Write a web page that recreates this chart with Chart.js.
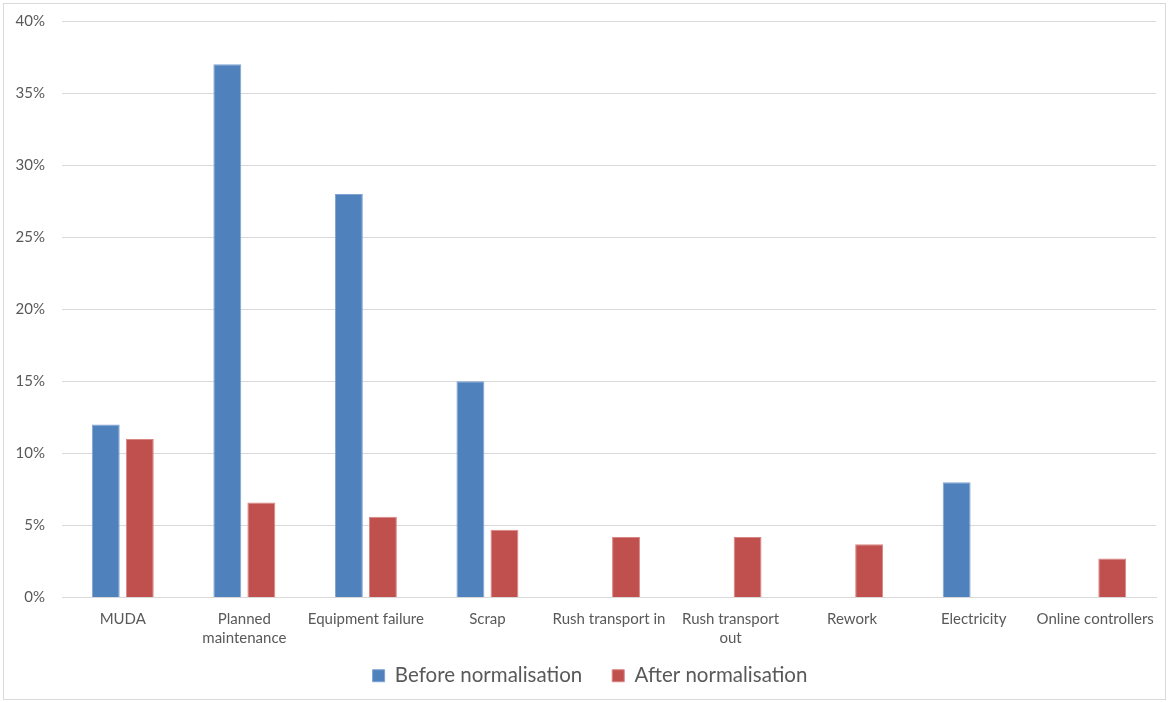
<!DOCTYPE html>
<html><head><meta charset="utf-8">
<script src="https://cdn.jsdelivr.net/npm/chart.js@4"></script>
<style>html,body{margin:0;padding:0;background:#fff}#wrap{width:1169px;height:702px;position:relative}</style>
</head><body><div id="wrap"><canvas id="c" width="1169" height="702"></canvas></div>
<script>
const categories = ['MUDA', ['Planned','maintenance'], 'Equipment failure', 'Scrap', 'Rush transport in', ['Rush transport','out'], 'Rework', 'Electricity', 'Online controllers'];
const beforeNorm = [12, 37, 28, 15, null, null, null, 8, null];
const afterNorm = [11, 6.6, 5.6, 4.7, 4.2, 4.2, 3.7, null, 2.7];
const yTicks = [0, 5, 10, 15, 20, 25, 30, 35, 40];

const borderPlugin = {
  id: 'outerBorder',
  afterLayout(chart) {
    chart.legend.top -= 12;
    chart.legend.bottom -= 12;
    chart.legend.left += 7;
    chart.legend.right += 7;
  },
  afterDraw(chart) {
    const ctx = chart.ctx;
    ctx.save();
    ctx.strokeStyle = '#d9d9d9';
    ctx.lineWidth = 1;
    ctx.strokeRect(3.5, 3.5, 1162, 696);
    ctx.restore();
  }
};

new Chart(document.getElementById('c'), {
  type: 'bar',
  data: {
    labels: categories,
    datasets: [
      {label: 'Before normalisation', data: beforeNorm, backgroundColor: '#4F81BD', borderColor: '#7FA3D3', borderWidth: 1, categoryPercentage: 0.56, barPercentage: 0.82},
      {label: 'After normalisation', data: afterNorm, backgroundColor: '#C0504D', borderColor: '#D98683', borderWidth: 1, categoryPercentage: 0.56, barPercentage: 0.82}
    ]
  },
  options: {
    responsive: false,
    animation: false,
    layout: {padding: {left: 10, right: 13, top: 8, bottom: -6}},
    plugins: {
      legend: {
        position: 'bottom',
        labels: {boxWidth: 12, boxHeight: 12, padding: 30, color: '#595959', font: {family: 'Lato', size: 20.5}}
      },
      tooltip: {enabled: false}
    },
    scales: {
      x: {
        afterFit(axis) { axis.height = 50; },
        grid: {display: false, drawTicks: false},
        border: {color: '#d9d9d9'},
        ticks: {color: '#595959', font: {family: 'Lato', size: 15, lineHeight: 1.27}, padding: 12, maxRotation: 0, autoSkip: false}
      },
      y: {
        min: 0, max: 40,
        afterBuildTicks(axis) { axis.ticks = yTicks.map(v => ({value: v})); },
        afterFit(axis) { axis.width = 52; axis.paddingTop = 21; },
        grid: {color: '#d9d9d9', drawTicks: false},
        border: {display: false},
        ticks: {color: '#595959', font: {family: 'Lato', size: 15}, padding: 17, callback: v => v + '%'}
      }
    }
  },
  plugins: [borderPlugin]
});
</script></body></html>
